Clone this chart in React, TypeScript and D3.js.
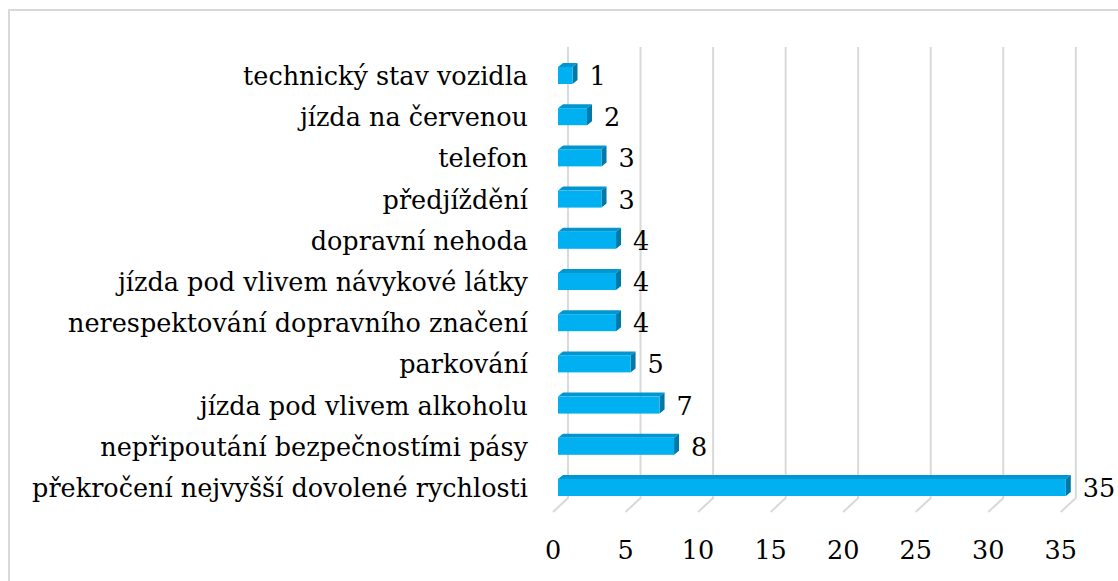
import * as d3 from 'd3'

const WIDTH = 1118
const HEIGHT = 581

// categories top -> bottom
const categories = [
  'technický stav vozidla',
  'jízda na červenou',
  'telefon',
  'předjíždění',
  'dopravní nehoda',
  'jízda pod vlivem návykové látky',
  'nerespektování dopravního značení',
  'parkování',
  'jízda pod vlivem alkoholu',
  'nepřipoutání bezpečnostími pásy',
  'překročení nejvyšší dovolené rychlosti',
]
const values = [1, 2, 3, 3, 4, 4, 4, 5, 7, 8, 35]
const tickValues = [0, 5, 10, 15, 20, 25, 30, 35]

const FONT = "'DejaVu Serif', serif"
const GRID = '#d9d9d9'
const textStyle = { fontFamily: FONT, fontSize: 25.5 }

export default function App() {
  // back wall x scale
  const x = d3.scaleLinear().domain([0, 35]).range([568, 1075.8])
  const y = d3.scaleBand().domain(categories).range([54.4, 507.6])

  const gridTop = 47
  const gridBottom = 498
  const depthX = 15
  const depthY = 14
  // bar front plane sits 10px in front of back wall
  const barOffX = -10
  const bdx = 5
  const bdy = 4
  const faceH = 17

  return (
    <svg width={WIDTH} height={HEIGHT} style={{ position: 'absolute', left: 0, top: 0 }}>
      <rect x={9} y={10} width={WIDTH} height={HEIGHT} fill="#fff" stroke={GRID} strokeWidth={2} />
      <g stroke={GRID} strokeWidth={2} fill="none">
        {tickValues.map((t) => (
          <path
            key={t}
            d={`M${x(t)},${gridTop}V${gridBottom}L${x(t) - depthX},${gridBottom + depthY}`}
          />
        ))}
      </g>
      {categories.map((c, i) => {
        const cy = (y(c) ?? 0) + y.bandwidth() / 2
        const x0 = x(0) + barOffX
        const x1 = x(values[i]) + barOffX
        const top = cy - 8
        return (
          <g key={c}>
            <path
              d={`M${x0},${top}L${x0 + bdx},${top - bdy}L${x1 + bdx},${top - bdy}L${x1},${top}Z`}
              fill="#0096cf"
            />
            <path
              d={`M${x1},${top}L${x1 + bdx},${top - bdy}L${x1 + bdx},${top + faceH - bdy}L${x1},${top + faceH}Z`}
              fill="#0079a8"
            />
            <rect x={x0} y={top} width={x1 - x0} height={faceH} fill="#00b0f0" />
            <text x={x1 + 17} y={cy + 10} style={textStyle} fill="#000">
              {values[i]}
            </text>
            <text x={528} y={cy + 10} textAnchor="end" style={textStyle} fill="#000">
              {c}
            </text>
          </g>
        )
      })}
      {tickValues.map((t) => (
        <text key={t} x={x(t) - depthX} y={559} textAnchor="middle" style={textStyle} fill="#000">
          {t}
        </text>
      ))}
    </svg>
  )
}
